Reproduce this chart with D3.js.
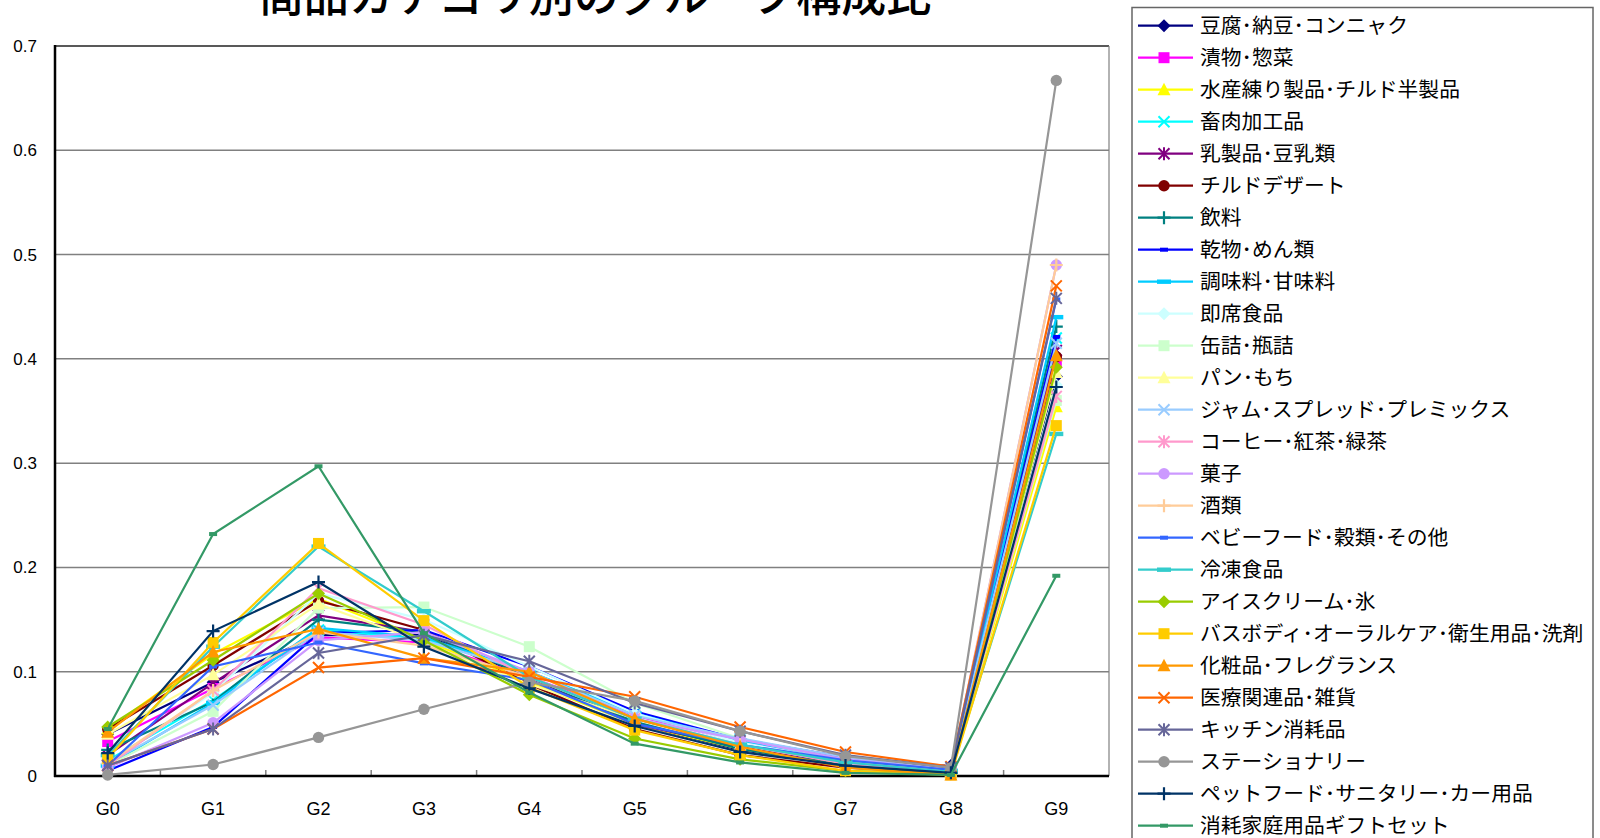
<!DOCTYPE html>
<html><head><meta charset="utf-8">
<script src="https://cdn.jsdelivr.net/npm/d3@7/dist/d3.min.js"></script>
<style>
html,body{margin:0;padding:0;background:#fff;}
svg{display:block;}
</style></head>
<body>
<svg id="chart" width="1600" height="838"></svg>
<script>
const title = "商品カテゴリ別のグループ構成比";
const categories = ["G0","G1","G2","G3","G4","G5","G6","G7","G8","G9"];
const yTicks = [0,0.1,0.2,0.3,0.4,0.5,0.6,0.7];
const seriesNames = [
 "豆腐･納豆･コンニャク","漬物･惣菜","水産練り製品･チルド半製品","畜肉加工品","乳製品･豆乳類",
 "チルドデザート","飲料","乾物･めん類","調味料･甘味料","即席食品","缶詰･瓶詰","パン･もち",
 "ジャム･スプレッド･プレミックス","コーヒー･紅茶･緑茶","菓子","酒類","ベビーフード･穀類･その他",
 "冷凍食品","アイスクリーム･氷","バスボディ･オーラルケア･衛生用品･洗剤","化粧品･フレグランス",
 "医療関連品･雑貨","キッチン消耗品","ステーショナリー","ペットフード･サニタリー･カー用品","消耗家庭用品ギフトセット"
];
const seriesColors = ["#000080","#FF00FF","#FFFF00","#00FFFF","#800080","#800000","#008080","#0000FF","#00CCFF",
 "#CCFFFF","#CCFFCC","#FFFF99","#99CCFF","#FF99CC","#CC99FF","#FFCC99","#3366FF","#33CCCC","#99CC00","#FFCC00",
 "#FF9900","#FF6600","#666699","#969696","#003366","#339966"];
const seriesMarkers = ["diamond","square","triangle","x","star","circle","plus","dash","longdash",
 "diamond","square","triangle","x","star","circle","plus","dash","longdash",
 "diamond","square","triangle","x","star","circle","plus","dash"];
const v01 = [0.040,0.090,0.135,0.135,0.095,0.050,0.025,0.010,0.010,0.383];
const v02 = [0.033,0.084,0.133,0.128,0.095,0.058,0.033,0.015,0.006,0.397];
const v03 = [0.045,0.117,0.170,0.130,0.090,0.050,0.026,0.010,0.003,0.354];
const v04 = [0.015,0.073,0.140,0.132,0.100,0.060,0.035,0.015,0.005,0.420];
const v05 = [0.020,0.089,0.154,0.138,0.095,0.050,0.028,0.012,0.004,0.408];
const v06 = [0.045,0.106,0.168,0.140,0.088,0.045,0.020,0.008,0.003,0.402];
const v07 = [0.025,0.071,0.150,0.138,0.095,0.052,0.026,0.010,0.003,0.431];
const v08 = [0.005,0.047,0.137,0.140,0.105,0.062,0.035,0.018,0.008,0.421];
const v09 = [0.010,0.070,0.142,0.133,0.100,0.060,0.034,0.016,0.005,0.440];
const v10 = [0.012,0.080,0.175,0.150,0.105,0.060,0.032,0.014,0.005,0.375];
const v11 = [0.010,0.062,0.161,0.162,0.124,0.070,0.036,0.015,0.005,0.360];
const v12 = [0.040,0.097,0.165,0.128,0.088,0.055,0.030,0.012,0.004,0.387];
const v13 = [0.012,0.068,0.138,0.130,0.100,0.058,0.036,0.018,0.006,0.415];
const v14 = [0.010,0.082,0.180,0.145,0.095,0.055,0.030,0.012,0.004,0.364];
const v15 = [0.008,0.051,0.130,0.138,0.100,0.055,0.035,0.016,0.006,0.490];
const v16 = [0.012,0.082,0.138,0.125,0.095,0.055,0.030,0.014,0.005,0.490];
const v17 = [0.010,0.105,0.128,0.108,0.092,0.050,0.030,0.015,0.006,0.457];
const v18 = [0.020,0.124,0.220,0.158,0.095,0.055,0.030,0.013,0.004,0.328];
const v19 = [0.047,0.111,0.175,0.130,0.078,0.036,0.016,0.005,0.002,0.392];
const v20 = [0.017,0.128,0.223,0.149,0.085,0.044,0.020,0.005,0.001,0.336];
const v21 = [0.042,0.119,0.141,0.113,0.100,0.055,0.028,0.008,0.001,0.403];
const v22 = [0.010,0.045,0.104,0.113,0.095,0.076,0.047,0.023,0.009,0.470];
const v23 = [0.010,0.045,0.118,0.135,0.110,0.070,0.043,0.020,0.008,0.458];
const v24 = [0.001,0.011,0.037,0.064,0.090,0.072,0.043,0.019,0.008,0.667];
const v25 = [0.022,0.139,0.186,0.124,0.084,0.048,0.023,0.010,0.003,0.373];
const v26 = [0.045,0.232,0.297,0.137,0.080,0.031,0.013,0.003,0.001,0.192];
const seriesValues = [v01,v02,v03,v04,v05,v06,v07,v08,v09,v10,v11,v12,v13,v14,v15,v16,v17,v18,v19,v20,v21,v22,v23,v24,v25,v26];

const series = seriesNames.map((n,i)=>({name:n,color:seriesColors[i],marker:seriesMarkers[i],values:seriesValues[i]}));

const svg = d3.select("#chart");
const L=55, R=1109, T=46, B=776;
const x = d3.scaleBand().domain(categories).range([L,R]).padding(0);
const y = d3.scaleLinear().domain([0,0.7]).range([B,T]);
const cx = c => x(c)+x.bandwidth()/2;
const latin = "'Liberation Sans', Arial, sans-serif";
const jp = "'Noto Sans CJK JP', sans-serif";

// title
svg.append("text").attr("x",595).attr("y",12).attr("text-anchor","middle")
  .style("font-family",jp).style("font-size","45px").style("font-weight","500").attr("fill","#000").text(title);

// gridlines
svg.append("g").selectAll("line").data(yTicks.filter(t=>t>0&&t<0.7)).join("line")
  .attr("x1",L).attr("x2",R).attr("y1",d=>y(d)).attr("y2",d=>y(d))
  .attr("stroke","#808080").attr("stroke-width",1.5);
// plot border top/right
svg.append("line").attr("x1",L).attr("x2",R).attr("y1",T).attr("y2",T).attr("stroke","#222").attr("stroke-width",1.5);
svg.append("line").attr("x1",R).attr("x2",R).attr("y1",T).attr("y2",B).attr("stroke","#808080").attr("stroke-width",1.2);

// y labels
const yAxis = d3.axisLeft(y).tickValues(yTicks).tickSize(0).tickPadding(0).tickFormat(d=>d===0?"0":d3.format(".1f")(d));
const yg = svg.append("g").attr("transform",`translate(37,0)`).call(yAxis);
yg.select(".domain").remove();
yg.selectAll("text").style("font-family",latin).style("font-size","17px").attr("fill","#000");

// x ticks (between categories, inside)
const bounds = categories.slice(1).map(c=>x(c));
svg.append("g").selectAll("line").data(bounds).join("line")
  .attr("x1",d=>d).attr("x2",d=>d).attr("y1",B).attr("y2",B-6).attr("stroke","#808080").attr("stroke-width",1.5);
// x labels
const xAxis = d3.axisBottom(x).tickSize(0).tickPadding(0);
const xg = svg.append("g").attr("transform",`translate(0,${B+26})`).call(xAxis);
xg.select(".domain").remove();
xg.selectAll("text").style("font-family",latin).style("font-size","18px").attr("fill","#000");

// axes lines
svg.append("line").attr("x1",L).attr("x2",L).attr("y1",T-1).attr("y2",B+1).attr("stroke","#000").attr("stroke-width",2.5);
svg.append("line").attr("x1",L-1).attr("x2",R).attr("y1",B).attr("y2",B).attr("stroke","#000").attr("stroke-width",2.5);

function drawMarker(g, type, color){
  switch(type){
    case "diamond": g.append("path").attr("d","M0,-6.5L6.5,0L0,6.5L-6.5,0Z").attr("fill",color); break;
    case "square": g.append("rect").attr("x",-5.5).attr("y",-5.5).attr("width",11).attr("height",11).attr("fill",color); break;
    case "triangle": g.append("path").attr("d","M0,-7L6.5,5.5L-6.5,5.5Z").attr("fill",color); break;
    case "circle": g.append("circle").attr("r",5.7).attr("fill",color); break;
    case "x": g.append("path").attr("d","M-5.5,-5.5L5.5,5.5M-5.5,5.5L5.5,-5.5").attr("stroke",color).attr("stroke-width",2).attr("fill","none"); break;
    case "star": g.append("path").attr("d","M-5.5,-5.5L5.5,5.5M-5.5,5.5L5.5,-5.5M0,-6.5L0,6.5").attr("stroke",color).attr("stroke-width",2).attr("fill","none"); break;
    case "plus": g.append("path").attr("d","M-6.5,0L6.5,0M0,-6.5L0,6.5").attr("stroke",color).attr("stroke-width",2.2).attr("fill","none"); break;
    case "dash": g.append("rect").attr("x",-4).attr("y",-2).attr("width",8).attr("height",4).attr("fill",color); break;
    case "longdash": g.append("rect").attr("x",-7).attr("y",-2.2).attr("width",14).attr("height",4.4).attr("fill",color); break;
  }
}

const line = d3.line().x((d,i)=>cx(categories[i])).y(d=>y(d));
const sg = svg.append("g");
series.forEach(s=>{
  const g = sg.append("g");
  g.append("path").attr("d",line(s.values)).attr("fill","none").attr("stroke",s.color).attr("stroke-width",2.2);
  s.values.forEach((v,i)=>{
    const m = g.append("g").attr("transform",`translate(${cx(categories[i])},${y(v)})`);
    drawMarker(m,s.marker,s.color);
  });
});

// legend
const lg = svg.append("g");
lg.append("rect").attr("x",1132).attr("y",7.5).attr("width",461).attr("height",900)
  .attr("fill","#fff").attr("stroke","#666").attr("stroke-width",1.5);
series.forEach((s,i)=>{
  const yy = 25.7 + i*32;
  const g = lg.append("g");
  g.append("line").attr("x1",1138).attr("x2",1193).attr("y1",yy).attr("y2",yy).attr("stroke",s.color).attr("stroke-width",2.2);
  const m = g.append("g").attr("transform",`translate(1164,${yy})`);
  drawMarker(m,s.marker,s.color);
  g.append("text").attr("x",1200).attr("y",yy).attr("dy","0.36em")
    .style("font-family",jp).style("font-size","20.8px").attr("fill","#000").text(s.name);
});
</script>
</body></html>
